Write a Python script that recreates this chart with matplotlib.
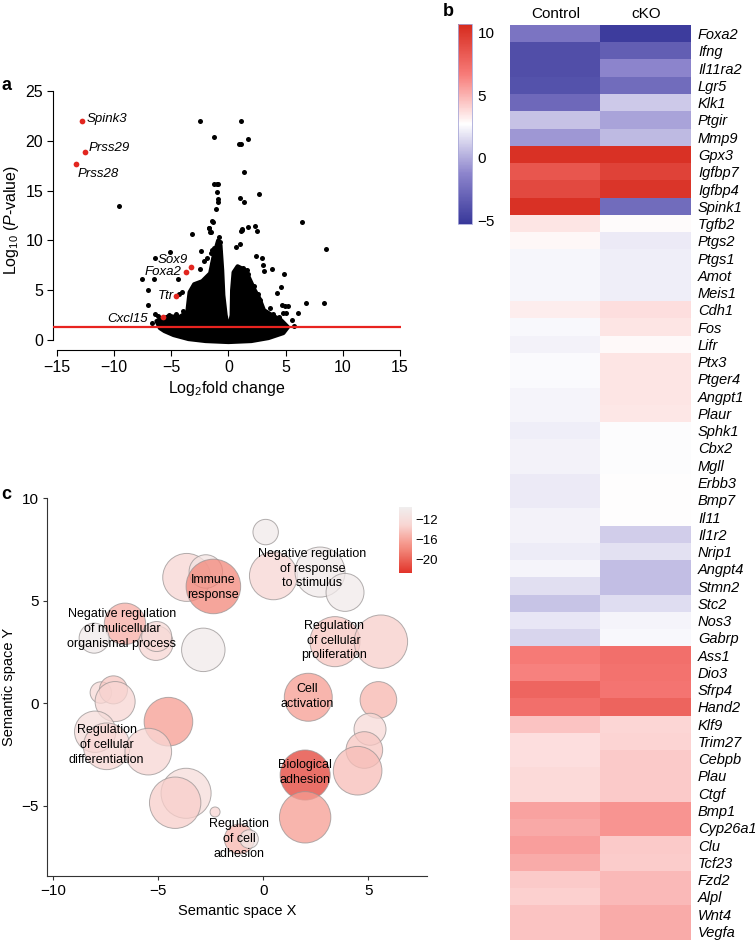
import numpy as np
import matplotlib
matplotlib.use("Agg")
import matplotlib.pyplot as plt
from matplotlib.colors import LinearSegmentedColormap, Normalize
from matplotlib.cm import ScalarMappable

plt.rcParams['font.family'] = ['Liberation Sans', 'DejaVu Sans']
plt.rcParams['mathtext.fontset'] = 'custom'
plt.rcParams['mathtext.rm'] = 'Liberation Sans'
plt.rcParams['mathtext.it'] = 'Liberation Sans:italic'

# =========================
# panel a: volcano data
# =========================
# dense cloud outline (log2 FC, -log10 P)
cloud_fc = [-6.0, -6.3, -5.2, -4.3, -3.6, -3.5, -3.4, -3.0, -2.3, -1.6, -1.3, -0.9, -0.7,
            -0.55, -0.45, -0.25, 0.02, 0.28, 0.32, 0.45, 0.8, 1.5, 1.9, 2.3, 2.7, 3.1,
            3.8, 4.6, 5.2, 4.8, 3.5, 2.0, 0.0, -2.0, -3.5, -4.8, -5.6]
cloud_p = [1.2, 1.9, 2.4, 2.3, 2.8, 3.8, 4.8, 5.6, 5.9, 6.7, 8.4, 10.0, 9.5,
           7.0, 4.5, 2.5, 1.0, 2.5, 5.0, 6.8, 7.4, 7.0, 6.0, 5.0, 4.2, 3.0,
           2.5, 2.0, 1.3, 0.7, 0.2, -0.1, -0.2, -0.1, 0.1, 0.5, 0.9]

# scattered genes
bg_fc = [-9.6, -2.45, 1.14, -1.28, 1.69, 0.95, 1.1, 1.37, -1.28, -0.99, -0.93, -0.99, -0.93,
         -0.93, -1.07, 1.05, 1.37, 2.71, 6.47, -3.18, -1.35, -1.7, -1.6, -0.85, -0.76, 1.2,
         1.1, 1.7, 2.3, 2.48, 2.4, 2.95, 3.03, 3.12, 3.85, 4.87, 4.58, 4.23, 2.8, 4.65, 4.95,
         5.2, 4.8, 5.0, 6.1, 5.6, 5.75, 6.76, 8.57, 8.4, -5.13, -6.47, -7.58, -6.48, -4.44,
         -7.05, -7.0, -4.08, -4.3, -6.4, -6.2, -6.65, -3.2, -2.9, -2.5, -3.6, -4.6, -5.2,
         -4.0, 3.2, 3.6, 3.9, 4.4, 2.6, 2.2, 1.7, 1.3, 1.6, -0.85, -0.75, -1.1, -1.4, -1.9,
         -2.2, 0.7, 1.05, 1.2, -1.42, -1.72, -1.57, -1.3, -1.4, -1.57, -1.86, -2.15, -2.45,
         -2.4]
bg_p = [13.5, 22.0, 22.0, 20.35, 20.15, 19.7, 19.7, 16.87, 15.7, 15.7, 15.7, 14.9, 14.2,
        13.9, 13.2, 14.3, 13.9, 14.7, 11.85, 10.6, 11.85, 11.2, 10.8, 10.3, 9.8, 11.1,
        10.9, 11.3, 11.4, 10.9, 8.4, 8.2, 7.5, 6.9, 7.1, 6.6, 5.35, 4.76, 4.0, 3.5, 3.4,
        3.4, 2.74, 2.74, 2.68, 2.0, 1.4, 3.75, 9.14, 3.7, 8.84, 8.27, 6.16, 6.09, 6.09,
        5.0, 3.48, 4.8, 4.6, 2.6, 2.4, 1.74, 3.9, 3.6, 4.2, 2.7, 2.6, 2.5,
        2.9, 2.8, 3.2, 2.6, 2.3, 4.6, 5.4, 6.6, 7.2, 7.0, 9.2, 8.8, 8.0, 7.6, 6.2,
        5.8, 9.3, 9.6, 11.0, 11.9, 11.2, 10.8, 9.2, 9.0, 8.7, 8.2, 7.9, 7.1,
        8.96]

hit_genes = ["Spink3", "Prss29", "Prss28", "Sox9", "Foxa2", "Ttr", "Cxcl15"]
hit_fc = [-12.8, -12.57, -13.36, -3.32, -3.73, -4.55, -5.77]
hit_p = [22.0, 18.9, 17.67, 7.3, 6.8, 4.42, 2.34]
p_cut = 1.3

# =========================
# panel b: heatmap data
# =========================
genes = ["Foxa2", "Ifng", "Il11ra2", "Lgr5", "Klk1", "Ptgir", "Mmp9", "Gpx3", "Igfbp7",
         "Igfbp4", "Spink1", "Tgfb2", "Ptgs2", "Ptgs1", "Amot", "Meis1", "Cdh1", "Fos",
         "Lifr", "Ptx3", "Ptger4", "Angpt1", "Plaur", "Sphk1", "Cbx2", "Mgll", "Erbb3",
         "Bmp7", "Il11", "Il1r2", "Nrip1", "Angpt4", "Stmn2", "Stc2", "Nos3", "Gabrp",
         "Ass1", "Dio3", "Sfrp4", "Hand2", "Klf9", "Trim27", "Cebpb", "Plau", "Ctgf",
         "Bmp1", "Cyp26a1", "Clu", "Tcf23", "Fzd2", "Alpl", "Wnt4", "Vegfa"]
groups = ["Control", "cKO"]
control = [-2.1, -4.1, -4.1, -3.9, -2.7, 0.7, -0.65, 10.3, 8.5, 9.1, 10.3, 3.5, 2.9, 2.4,
           2.4, 2.4, 3.2, 2.5, 2.3, 2.55, 2.55, 2.35, 2.35, 2.15, 2.3, 2.3, 2.05, 2.05, 2.3,
           2.3, 2.1, 2.35, 1.65, 0.8, 1.9, 1.35, 6.7, 6.5, 7.7, 7.2, 4.5, 3.65, 3.65, 3.8,
           3.8, 5.5, 5.3, 5.6, 5.2, 4.3, 4.1, 4.5, 4.5]
cko = [-5.0, -3.3, -1.3, -2.5, 0.95, -0.3, 0.5, 10.3, 9.5, 10.1, -2.5, 2.8, 2.05, 2.15,
       2.15, 2.15, 3.65, 3.5, 2.85, 3.45, 3.45, 3.45, 3.4, 2.6, 2.6, 2.6, 2.7, 2.75, 2.75,
       1.1, 1.75, 0.6, 0.6, 1.6, 2.35, 2.5, 7.2, 7.1, 7.0, 7.8, 3.9, 4.0, 4.3, 4.3, 4.3,
       5.9, 5.9, 4.3, 4.2, 4.8, 4.8, 5.2, 5.2]

# =========================
# panel c: REVIGO bubble data
# =========================
sem_x = [0.11, -3.65, -2.74, -2.38, -6.59, -8.06, -5.12, -5.08, -2.86, -7.74, -7.14, -7.06,
         -4.52, -8.01, -7.46, -5.48, 0.48, 2.7, 3.89, 3.41, 5.6, 2.14, 5.48, 5.08, 4.81,
         4.49, 1.99, 1.99, -3.68, -4.2, -2.3, -1.14, -0.68]
sem_y = [8.34, 6.13, 6.42, 5.69, 3.87, 3.17, 2.93, 3.25, 2.6, 0.52, 0.65, 0.08, -0.9,
         -1.39, -2.1, -2.36, 6.21, 6.39, 5.4, 3.0, 3.0, 0.29, 0.16, -1.27, -2.28, -3.29,
         -3.5, -5.56, -4.39, -4.85, -5.3, -6.62, -6.62]
log_size = [2.31, 4.36, 3.04, 4.96, 3.76, 2.73, 3.15, 2.73, 3.95, 1.95, 2.55, 3.64, 4.42,
            3.76, 4.24, 4.24, 4.36, 4.55, 3.45, 4.55, 4.85, 4.36, 3.33, 2.91, 3.33, 4.42,
            4.55, 4.67, 4.55, 4.67, 0.91, 2.73, 1.69]
log_p = [-10, -13, -11, -18, -15.5, -10, -13, -12.5, -10, -12.5, -14, -13, -16.5, -12, -13,
         -13, -13, -10, -10, -14, -13.5, -16.5, -15, -12.5, -14, -14.5, -22, -16.5, -12,
         -13.5, -13, -15, -10.5]
term_labels = ["Immune\nresponse", "Negative regulation\nof response\nto stimulus",
               "Negative regulation\nof mulicellular\norganismal process",
               "Regulation\nof cellular\nproliferation", "Cell\nactivation",
               "Regulation\nof cellular\ndifferentiation", "Biological\nadhesion",
               "Regulation\nof cell\nadhesion"]
label_x = [-2.38, 2.33, -6.74, 3.38, 2.11, -7.46, 1.99, -1.14]
label_y = [5.64, 6.55, 3.62, 3.05, 0.32, -2.03, -3.39, -6.62]

# =========================
# layout helpers
# =========================
W, H = 755, 940


def rect(x0, y0, x1, y1):
    return [x0 / W, 1 - y1 / H, (x1 - x0) / W, (y1 - y0) / H]


fig = plt.figure(figsize=(W / 100, H / 100), dpi=100)

# =========================
# a: volcano
# =========================
ax = fig.add_axes(rect(53, 90, 400.5, 350))
ax.fill(cloud_fc, cloud_p, color="black", lw=3, joinstyle="round", clip_on=False)
ax.scatter(bg_fc, bg_p, s=13, c="black", lw=0, clip_on=False)
ax.scatter(hit_fc, hit_p, s=17, c="#e2261f", lw=0, zorder=4, clip_on=False)
ax.axhline(p_cut, color="#e8231f", lw=1.6, zorder=5)

offsets = {"Spink3": (4, 2, "left"), "Prss29": (4, 4, "left"), "Prss28": (2, -10, "left"),
           "Sox9": (-3, 7, "right"), "Foxa2": (-4, 0, "right"), "Ttr": (-3, 0, "right"),
           "Cxcl15": (-15, -2, "right")}
for g, x, y in zip(hit_genes, hit_fc, hit_p):
    dx, dy, ha = offsets[g]
    ax.annotate(g, (x, y), xytext=(dx, dy), textcoords="offset pixels", ha=ha,
                va="center", fontsize=9.5, style="italic")

ax.set_xlim(-15.35, 15.05)
ax.set_ylim(-1, 25.1)
for s in ["top", "right"]:
    ax.spines[s].set_visible(False)
ax.spines["left"].set_bounds(0, 25)
ax.spines["bottom"].set_bounds(-15, 15)
for s in ["left", "bottom"]:
    ax.spines[s].set_linewidth(0.8)
ax.set_xticks([-15, -10, -5, 0, 5, 10, 15])
ax.set_yticks([0, 5, 10, 15, 20, 25])
ax.tick_params(direction="out", length=4, width=0.8, labelsize=11.5, pad=3)
ax.set_xlabel("Log$_2$fold change", fontsize=11.5, labelpad=3)
ax.set_ylabel("Log$_{10}$ ($P$-value)", fontsize=11.5, labelpad=3)
ax.patch.set_alpha(0)

# =========================
# b: heatmap
# =========================
heat_cmap = LinearSegmentedColormap.from_list(
    "bwr_custom", [(0, "#38389a"), (0.25, "#8c84cc"), (0.5, "#ffffff"),
                   (0.75, "#f77b78"), (1.0, "#d62a1d")])
heat_norm = Normalize(vmin=-5.3, vmax=10.7)
mat = np.column_stack([control, cko])

axh = fig.add_axes(rect(510, 25, 691, 940))
axh.imshow(mat, cmap=heat_cmap, norm=heat_norm, aspect="auto", interpolation="nearest")
axh.set_xticks(range(len(groups)))
axh.set_xticklabels(groups, fontsize=11)
axh.xaxis.tick_top()
axh.set_yticks(range(len(genes)))
axh.set_yticklabels(genes, fontsize=10.5, style="italic")
axh.yaxis.tick_right()
axh.tick_params(length=0, pad=5)
axh.tick_params(axis="x", pad=3)
for s in axh.spines.values():
    s.set_visible(False)

cax = fig.add_axes(rect(458, 24, 472, 224))
cb = fig.colorbar(ScalarMappable(norm=heat_norm, cmap=heat_cmap), cax=cax, ticks=[-5, 0, 5, 10])
cb.outline.set_edgecolor("#a8a8d8")
cb.outline.set_linewidth(0.6)
cax.tick_params(length=0, labelsize=11, pad=4)

# =========================
# c: bubble plot
# =========================
bub_cmap = LinearSegmentedColormap.from_list(
    "revigo", [(0.0, "#e2342a"), (0.353, "#f2877a"), (0.466, "#f69d92"),
               (0.729, "#f8d6d3"), (1.0, "#f0eeee")])
bub_norm = Normalize(vmin=-22.7, vmax=-9.4)

axc = fig.add_axes(rect(47.3, 498, 426.7, 876))
sizes = [(ls * 5.5 * 2 * 0.72) ** 2 for ls in log_size]
axc.scatter(sem_x, sem_y, s=sizes, c=log_p, cmap=bub_cmap, norm=bub_norm, alpha=0.75,
            edgecolors=(0.6, 0.58, 0.58, 0.3), linewidths=0.7, zorder=2)
for t, x, y in zip(term_labels, label_x, label_y):
    axc.text(x, y, t, ha="center", va="center", fontsize=9, linespacing=1.3, zorder=3)

axc.set_xlim(-10.29, 7.78)
axc.set_ylim(-8.42, 10)
for s in ["top", "right"]:
    axc.spines[s].set_visible(False)
for s in ["left", "bottom"]:
    axc.spines[s].set_linewidth(0.8)
    axc.spines[s].set_color("#333333")
axc.set_xticks([-10, -5, 0, 5])
axc.set_yticks([-5, 0, 5, 10])
axc.tick_params(direction="out", length=3, width=0.8, color="#333333", labelsize=11, pad=3)
axc.set_xlabel("Semantic space X", fontsize=10.5, labelpad=4)
axc.set_ylabel("Semantic space Y", fontsize=10.5, labelpad=4)

cax2 = fig.add_axes(rect(399.3, 507, 411.7, 572.7))
cb2 = fig.colorbar(ScalarMappable(norm=bub_norm, cmap=bub_cmap), cax=cax2, ticks=[-12, -16, -20])
cb2.outline.set_visible(False)
cax2.tick_params(length=0, labelsize=9.5, pad=3)

# panel letters
fig.text(1 / W, 1 - 85 / H, "a", fontsize=13, fontweight="bold", va="center")
fig.text(443 / W, 1 - 12 / H, "b", fontsize=13, fontweight="bold", va="center")
fig.text(1 / W, 1 - 494 / H, "c", fontsize=13, fontweight="bold", va="center")

fig.savefig("out.png", dpi=100)
